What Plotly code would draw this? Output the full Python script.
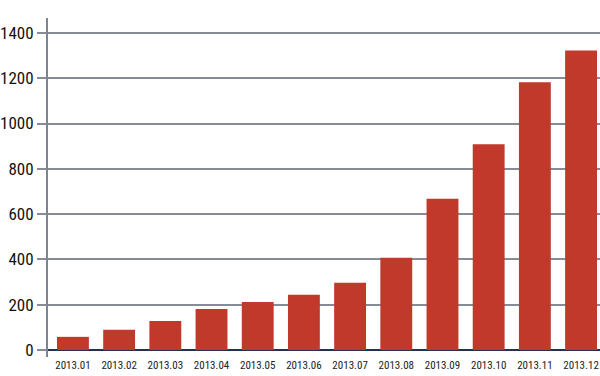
import plotly.graph_objects as go

months = ["2013.01", "2013.02", "2013.03", "2013.04", "2013.05", "2013.06",
          "2013.07", "2013.08", "2013.09", "2013.10", "2013.11", "2013.12"]
values = [58, 89, 128, 181, 212, 244, 297, 407, 668, 908, 1182, 1323]
y_ticks = [0, 200, 400, 600, 800, 1000, 1200, 1400]

FONT = "Liberation Sans Narrow, Roboto Condensed, Arial Narrow, sans-serif"
GRID = "#858c98"

fig = go.Figure(go.Bar(
    x=list(range(len(months))), y=values,
    marker=dict(color="#c0392b", line=dict(width=0)),
))

fig.update_layout(
    width=600, height=376,
    margin=dict(l=48, r=0, t=18, b=19, autoexpand=False),
    plot_bgcolor="white", paper_bgcolor="white",
    bargap=0.31, showlegend=False,
    font=dict(family=FONT, color="#111"),
)
fig.update_xaxes(
    range=[-0.54, 11.41], automargin=False,
    tickmode="array", tickvals=list(range(len(months))), ticktext=months,
    tickfont=dict(size=11, family=FONT, color="#222"),
    showgrid=False, showline=False, ticks="", ticklen=0,
)
fig.update_yaxes(
    range=[-31, 1466], automargin=False,
    tickmode="array", tickvals=y_ticks,
    tickfont=dict(size=17, family=FONT, color="#111"),
    showgrid=True, gridcolor=GRID, gridwidth=2,
    zeroline=True, zerolinecolor="#26304a", zerolinewidth=2,
    showline=True, linecolor="#7d8591", linewidth=2,
    ticks="outside", ticklen=9, tickcolor=GRID, tickwidth=2,
)

fig.write_html(
    "out.html",
    config={"displayModeBar": False},
    post_script="document.body.style.margin='0';document.body.style.overflow='hidden';",
)
